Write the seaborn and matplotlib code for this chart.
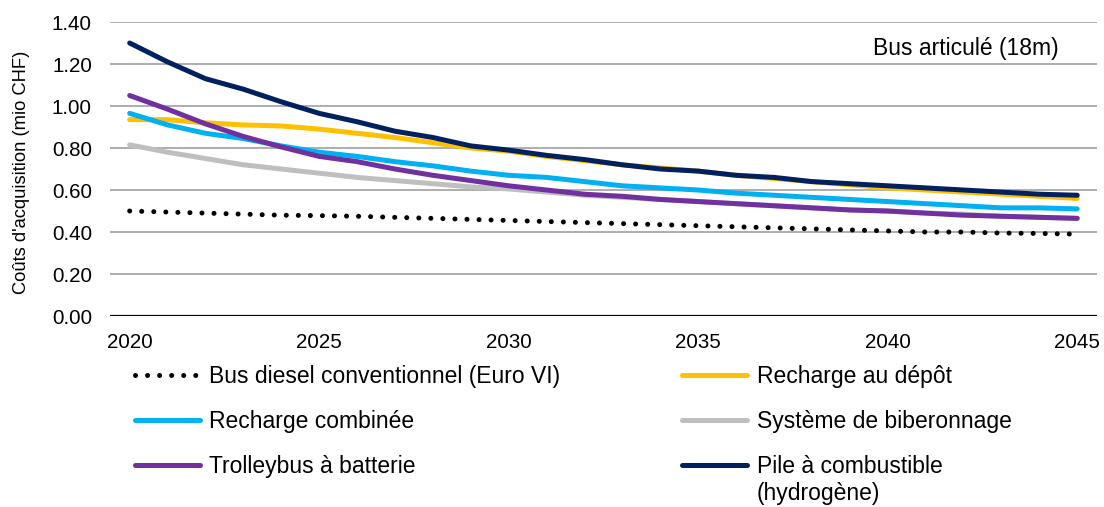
import numpy as np
import pandas as pd
import matplotlib
matplotlib.use("Agg")
import matplotlib.pyplot as plt
from matplotlib.lines import Line2D
from matplotlib.ticker import FormatStrFormatter
import seaborn as sns

# data
years = list(range(2020, 2046))

diesel = [0.50, 0.495, 0.49, 0.485, 0.48, 0.478, 0.475, 0.47, 0.465, 0.46,
          0.455, 0.45, 0.445, 0.44, 0.435, 0.43, 0.425, 0.42, 0.415, 0.41,
          0.405, 0.40, 0.40, 0.395, 0.393, 0.39]
depot = [0.935, 0.935, 0.92, 0.91, 0.905, 0.89, 0.87, 0.85, 0.825, 0.80,
         0.785, 0.76, 0.74, 0.72, 0.705, 0.69, 0.67, 0.655, 0.64, 0.625,
         0.61, 0.60, 0.59, 0.58, 0.57, 0.56]
combinee = [0.965, 0.91, 0.87, 0.845, 0.81, 0.78, 0.76, 0.735, 0.715, 0.69,
            0.67, 0.66, 0.64, 0.62, 0.61, 0.60, 0.585, 0.575, 0.565, 0.555,
            0.545, 0.535, 0.525, 0.515, 0.515, 0.51]
biberonnage = [0.815, 0.78, 0.75, 0.72, 0.70, 0.68, 0.66, 0.645, 0.63, 0.615,
               0.605, 0.59, 0.575, 0.565, 0.555, 0.545, 0.535, 0.525, 0.515, 0.505,
               0.50, 0.49, 0.485, 0.475, 0.47, 0.465]
trolley = [1.05, 0.985, 0.915, 0.855, 0.805, 0.76, 0.735, 0.70, 0.67, 0.645,
           0.62, 0.60, 0.58, 0.57, 0.555, 0.545, 0.535, 0.525, 0.515, 0.505,
           0.50, 0.49, 0.48, 0.475, 0.47, 0.465]
pile = [1.30, 1.21, 1.13, 1.08, 1.02, 0.965, 0.925, 0.88, 0.85, 0.81,
        0.79, 0.765, 0.745, 0.72, 0.70, 0.69, 0.67, 0.66, 0.64, 0.63,
        0.62, 0.61, 0.60, 0.59, 0.58, 0.575]

labels = ["Bus diesel conventionnel (Euro VI)", "Recharge au dépôt",
          "Recharge combinée", "Système de biberonnage",
          "Trolleybus à batterie", "Pile à combustible"]
pile_line2 = "(hydrogène)"
colors = ["#000000", "#FFC000", "#00B0F0", "#BFBFBF", "#7030A0", "#002060"]
y_ticks = [0.0, 0.2, 0.4, 0.6, 0.8, 1.0, 1.2, 1.4]
x_ticks = [2020, 2025, 2030, 2035, 2040, 2045]

series = [diesel, depot, combinee, biberonnage, trolley, pile]
df = pd.DataFrame({"annee": years * len(series),
                   "cout": np.concatenate(series),
                   "type": np.repeat(labels, len(years))})

sns.set_style("white")
plt.rcParams["font.family"] = ["Liberation Sans", "DejaVu Sans"]
plt.rcParams["text.color"] = "black"
plt.rcParams["axes.labelcolor"] = "black"
plt.rcParams["xtick.color"] = "black"
plt.rcParams["ytick.color"] = "black"

fig = plt.figure(figsize=(11.04, 5.07), dpi=100)
ax = fig.add_axes([0.0996, 0.3767, 0.894, 0.5799])

lw = 3.6
dotted = (0, (0.01, 2.4))
for lab, col in zip(labels, colors):
    sub = df[df["type"] == lab]
    ls = dotted if lab.startswith("Bus diesel") else "-"
    sns.lineplot(data=sub, x="annee", y="cout", ax=ax, color=col, lw=lw,
                 linestyle=ls, solid_capstyle="round", dash_capstyle="round",
                 legend=False)

ax.set_xlim(2019.48, 2045.52)
ax.set_ylim(0, 1.4)
ax.set_yticks(y_ticks)
ax.set_xticks(x_ticks)
ax.yaxis.set_major_formatter(FormatStrFormatter("%.2f"))
ax.grid(axis="y", color="#ADADAD", lw=1.4)
ax.grid(axis="x", visible=False)
ax.axhline(0, color="black", lw=1.6, zorder=1)
for s in ax.spines.values():
    s.set_visible(False)
ax.tick_params(axis="y", length=0, pad=13, labelsize=14.8)
ax.tick_params(axis="x", length=0, pad=12, labelsize=14.8)
ax.set_xlabel("")
ax.set_ylabel("Coûts d'acquisition (mio CHF)", fontsize=13.2)
ax.yaxis.set_label_coords(-0.081, 0.49)

ax.text(0.867, 0.91, "Bus articulé (18m)", transform=ax.transAxes,
        ha="center", va="center", fontsize=16.5)

# legend, two columns filled column by column
order = [0, 2, 4, 1, 3, 5]
handles = []
for i in order:
    ls = dotted if i == 0 else "-"
    handles.append(Line2D([], [], color=colors[i], lw=lw, linestyle=ls,
                          solid_capstyle="round", dash_capstyle="round"))
leg = fig.legend(handles, [labels[i] for i in order], ncol=2, frameon=False,
                 loc="upper left", bbox_to_anchor=(0.1223, 0.281),
                 fontsize=16.5, handlelength=2.85, handletextpad=0.4,
                 columnspacing=5.3, labelspacing=0.98, borderpad=0,
                 borderaxespad=0)

# second line of the last label, hung under the first
fig.canvas.draw()
ax.annotate(pile_line2, xy=(0, 0), xycoords=leg.get_texts()[5],
            xytext=(0, -2.5), textcoords="offset points",
            ha="left", va="top", fontsize=16.5, annotation_clip=False)

fig.savefig("out.png", dpi=100)
